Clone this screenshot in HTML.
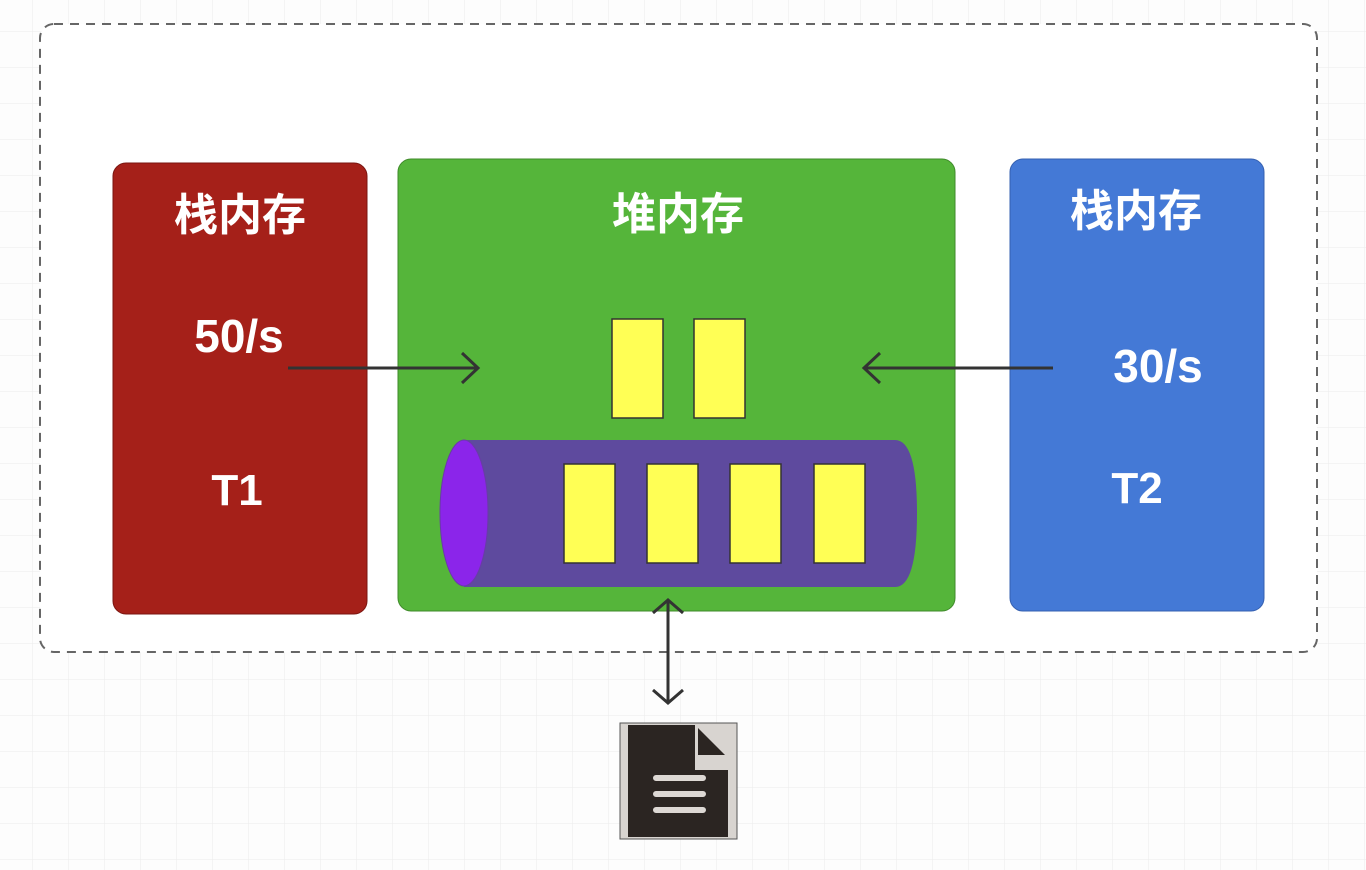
<!DOCTYPE html>
<html><head><meta charset="utf-8"><style>
html,body{margin:0;padding:0;background:#fdfdfd;}
svg{display:block;}
text{font-family:"Liberation Sans","Noto Sans CJK SC",sans-serif;font-weight:bold;fill:#fff;text-anchor:middle;}
</style></head><body>
<svg width="1366" height="870" viewBox="0 0 1366 870">
<defs>
<pattern id="g" width="36" height="36" patternUnits="userSpaceOnUse" x="-3" y="-4">
<path d="M36 0V36M0 36H36" stroke="#ececec" stroke-width="1" fill="none"/>
</pattern>
</defs>
<rect width="1366" height="870" fill="url(#g)"/>
<rect x="40" y="24" width="1277" height="628" rx="14" fill="#fff" stroke="#666" stroke-width="2" stroke-dasharray="9,7"/>
<rect x="113" y="163" width="254" height="451" rx="13" fill="#a52019" stroke="#7a1510" stroke-width="1"/>
<rect x="398" y="159" width="557" height="452" rx="13" fill="#55b53a" stroke="#3f8a2a" stroke-width="1"/>
<rect x="1010" y="159" width="254" height="452" rx="13" fill="#4479d6" stroke="#3560b0" stroke-width="1"/>
<text x="240" y="230" font-size="44">栈内存</text>
<text x="239" y="352" font-size="46">50/s</text>
<text x="237" y="505" font-size="44">T1</text>
<text x="678" y="229" font-size="44">堆内存</text>
<text x="1136" y="226" font-size="44">栈内存</text>
<text x="1158" y="382" font-size="46">30/s</text>
<text x="1137" y="503" font-size="44">T2</text>
<g stroke="#333" stroke-width="3" fill="none">
<path d="M288 368H478M462 353L478 368L462 383"/>
<path d="M1053 368H864M880 353L864 368L880 383"/>
<path d="M668 600V703M653 613L668 600L683 613M653 690L668 703L683 690"/>
</g>
<g fill="#ffff55" stroke="#333" stroke-width="1.5">
<rect x="612" y="319" width="51" height="99"/>
<rect x="694" y="319" width="51" height="99"/>
</g>
<path d="M464 440H895Q917 440 917 513Q917 587 895 587H464Z" fill="#5e4a9e"/>
<ellipse cx="464" cy="513" rx="24" ry="73" fill="#8b25ea" stroke="#6a3aa8" stroke-width="1"/>
<g fill="#ffff55" stroke="#333" stroke-width="1.5">
<rect x="564" y="464" width="51" height="99"/>
<rect x="647" y="464" width="51" height="99"/>
<rect x="730" y="464" width="51" height="99"/>
<rect x="814" y="464" width="51" height="99"/>
</g>
<rect x="620" y="723" width="117" height="116" fill="#d8d4d0" stroke="#555" stroke-width="1"/>
<path d="M628 725H695V770H728V837H628Z" fill="#2b2522"/>
<path d="M698 728L725 755H698Z" fill="#2b2522"/>
<g stroke="#ddd8d4" stroke-width="6" stroke-linecap="round">
<path d="M656 778H703M656 794H703M656 810H703"/>
</g>
</svg>
</body></html>
